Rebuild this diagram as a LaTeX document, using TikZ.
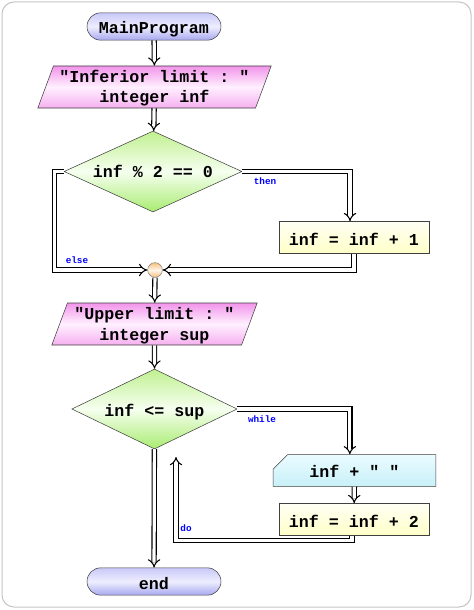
\documentclass[tikz,border=0pt]{standalone}
\usepackage{fontspec}
\setmonofont{Liberation Mono}
\usepackage{tikz}
\usetikzlibrary{shapes.geometric, shapes.misc, arrows.meta}

\definecolor{termtop}{HTML}{C8C8F8}
\definecolor{termmid}{HTML}{EEEEFF}
\definecolor{termbot}{HTML}{A8A8F0}
\definecolor{iotop}{HTML}{F294EA}
\definecolor{iomid}{HTML}{FFF0FF}
\definecolor{iobot}{HTML}{F6B0F0}
\definecolor{testtop}{HTML}{C0F090}
\definecolor{testmid}{HTML}{F6FFF0}
\definecolor{testbot}{HTML}{A8EC70}
\definecolor{proctop}{HTML}{FFFFF4}
\definecolor{procbot}{HTML}{FFFFC8}
\definecolor{outtop}{HTML}{EAFCFF}
\definecolor{outbot}{HTML}{C8F0F8}
\definecolor{jointop}{HTML}{F8C080}
\definecolor{jointmid}{HTML}{FFF4E8}
\definecolor{frame}{HTML}{C4C4C4}

\begin{document}
\begin{tikzpicture}[x=0.75pt, y=-0.75pt,
    every node/.style={font=\fontsize{12.5}{15.5}\selectfont\ttfamily\bfseries, inner sep=0pt},
    term/.style={rounded rectangle, draw=black!75, minimum width=100.5pt, minimum height=20.5pt,
      text height=11.25pt, text depth=0pt,
      top color=termtop, bottom color=termbot, middle color=termmid},
    io/.style={trapezium, trapezium left angle=64, trapezium right angle=116,
      trapezium stretches body, draw=black!75, minimum height=31.5pt,
      text height=24pt, text depth=0pt,
      top color=iotop, bottom color=iobot, middle color=iomid},
    test/.style={diamond, aspect=2.2, draw=black!75, text depth=0pt,
      top color=testtop, bottom color=testbot, middle color=testmid},
    proc/.style={rectangle, draw=black!75, minimum width=112.5pt, minimum height=24pt,
      text height=12.5pt, text depth=0pt, top color=proctop, bottom color=procbot},
    outbox/.style={chamfered rectangle, chamfered rectangle corners=north west,
      chamfered rectangle xsep=3.75pt, chamfered rectangle ysep=7pt, draw=black!75,
      minimum width=122pt, minimum height=14.5pt, text height=9.75pt, text depth=0pt,
      top color=outtop, bottom color=outbot},
    joint/.style={circle, draw=black!50, minimum size=11pt,
      top color=jointop, bottom color=jointop, middle color=jointmid},
    flow/.style={draw=black, line width=0.8pt, double=white, double distance=2.4pt,
      -{Implies[scale=1.5]}},
    branch/.style={font=\fontsize{7}{8}\selectfont\ttfamily\bfseries, text=blue}
  ]
    % frame
    \useasboundingbox (0,0) rectangle (474,610);
    \draw[frame, line width=0.75pt, rounded corners=9pt] (2,2) rectangle (471,607);

    % blocks
    \node[term] (main) at (154,26.5) {MainProgram};
    \node[io, minimum width=175pt] (in1) at (154.5,87)
      {\begin{tabular}[b]{@{}c@{}}"Inferior limit : "\\integer inf\end{tabular}};
    \node[test, minimum width=133.5pt, minimum height=60.75pt, text height=8.7pt] (cond1) at (153,171.5) {inf \% 2 == 0};
    \node[proc] (inc1) at (354,237.5) {inf = inf + 1};
    \node[joint] (join) at (155,270) {};
    \node[io, minimum width=154pt] (in2) at (154.5,324)
      {\begin{tabular}[b]{@{}c@{}}"Upper limit : "\\integer sup\end{tabular}};
    \node[test, minimum width=124pt, minimum height=60pt, text height=11pt] (cond2) at (154.5,409) {inf <= sup};
    \node[outbox] (out1) at (354.5,470.5) {inf + " "};
    \node[proc] (inc2) at (354,519.5) {inf = inf + 2};
    \node[term] (end) at (154,581.5) {end};
    \coordinate (back) at (176,457);

    % connectors
    \draw[flow] (main) -- (in1);
    \draw[flow] (in1) -- (cond1);
    \draw[flow] (cond1.east) -| ([xshift=-3pt]inc1.north);
    \draw[flow] (cond1.west) -- ++(-9,0) |- (join.west);
    \draw[flow] (inc1.south) |- (join.east);
    \draw[flow] (join) -- (in2);
    \draw[flow] (in2) -- (cond2);
    \draw[flow] (cond2.east) -| ([xshift=-3.5pt]out1.north);
    \draw[flow] (out1) -- (inc2);
    \draw[flow] ([xshift=-1.5pt]inc2.south) -- ++(0,5) -| (back);
    \draw[flow] (cond2) -- (end);

    % branch labels
    \node[branch] (lthen) at (265,181) {then};
    \node[branch] (lelse) at (77,260) {else};
    \node[branch] (lwhile) at (262,419) {while};
    \node[branch] (ldo) at (186,528) {do};
\end{tikzpicture}
\end{document}
